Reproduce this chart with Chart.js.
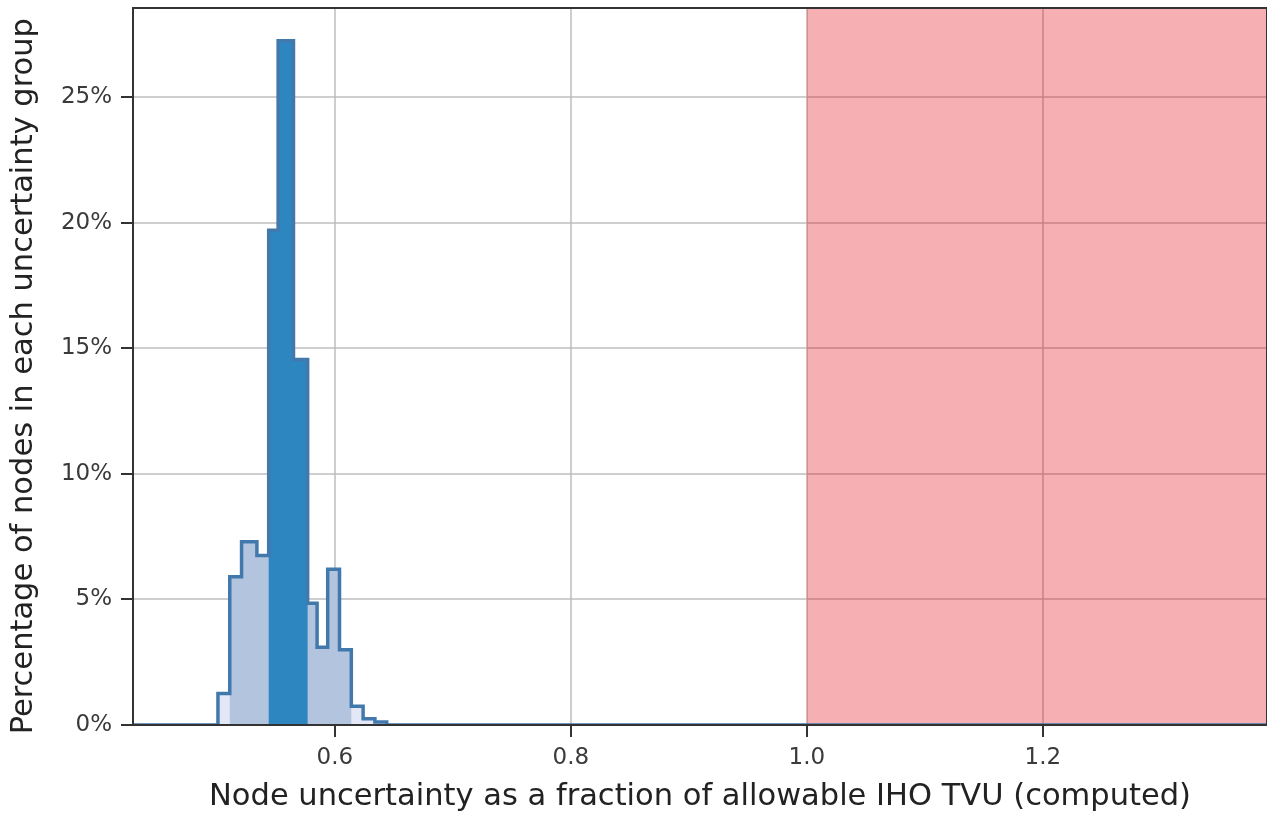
<!DOCTYPE html>
<html>
<head>
<meta charset="utf-8">
<script src="https://cdn.jsdelivr.net/npm/chart.js@4/dist/chart.umd.min.js"></script>
<style>
  body { margin: 0; background: #fff; }
  canvas { display: block; }
</style>
</head>
<body>
<canvas id="histo" width="1267" height="815"></canvas>
<script>
// left edges of the histogram bins (last value closes the last bin)
const binEdges = [0.501, 0.511, 0.521, 0.534, 0.544, 0.552, 0.565, 0.577, 0.585, 0.594, 0.604, 0.614, 0.624, 0.634, 0.644];
// percentage of nodes per bin
const nodePercent = [1.25, 5.9, 7.3, 6.75, 19.7, 27.25, 14.55, 4.85, 3.1, 6.2, 3.0, 0.75, 0.25, 0.12];
// shading group of each bin: 0 pale, 1 light, 2 dark
const binGroup = [0, 1, 1, 1, 2, 2, 2, 1, 1, 1, 1, 0, 0, 0];
const xTicks = [0.6, 0.8, 1.0, 1.2];
const yTicks = [0, 5, 10, 15, 20, 25];
const xRange = [0.429, 1.39];
const yMax = 28.55;
const limitStart = 1.0; // allowable TVU fraction

function stepPoints(keep) {
    const pts = [];
    for (let i = 0; i < nodePercent.length; i++) {
        pts.push({ x: binEdges[i], y: keep(i) ? nodePercent[i] : 0 });
    }
    pts.push({ x: binEdges[binEdges.length - 1], y: 0 });
    return pts;
}

const outline = [{ x: xRange[0], y: 0 }].concat(stepPoints(() => true), [{ x: xRange[1], y: 0 }]);

const redZone = {
    id: "redZone",
    beforeDatasetsDraw(chart) {
        const { ctx, chartArea, scales } = chart;
        const x0 = scales.x.getPixelForValue(limitStart);
        ctx.save();
        ctx.fillStyle = "rgba(226, 0, 10, 0.314)";
        ctx.fillRect(x0, chartArea.top, chartArea.right - x0, chartArea.bottom - chartArea.top);
        ctx.restore();
    },
    afterDraw(chart) {
        const { ctx, chartArea } = chart;
        ctx.save();
        ctx.strokeStyle = "#333";
        ctx.lineWidth = 2;
        ctx.strokeRect(chartArea.left, chartArea.top, chartArea.right - chartArea.left, chartArea.bottom - chartArea.top);
        ctx.restore();
    }
};

const lineBase = { stepped: "before", pointRadius: 0, borderWidth: 0, fill: "origin" };
const gridStyle = { color: "rgba(185,185,185,0.7)", lineWidth: 2, tickLength: 12, tickColor: "#333" };

new Chart(document.getElementById("histo").getContext("2d"), {
    type: "line",
    data: {
        datasets: [
            { ...lineBase, data: outline, borderColor: "#4279ad", borderWidth: 3.5, fill: false },
            { ...lineBase, data: stepPoints(i => binGroup[i] === 2), backgroundColor: "#2e86c1" },
            { ...lineBase, data: stepPoints(i => binGroup[i] === 0), backgroundColor: "#e4e7f5" },
            { ...lineBase, data: stepPoints(() => true), backgroundColor: "#b3c4df" }
        ]
    },
    options: {
        responsive: false,
        animation: false,
        layout: { padding: { top: 8, right: 0, left: 0, bottom: 0 } },
        plugins: { legend: { display: false }, tooltip: { enabled: false } },
        scales: {
            x: {
                type: "linear",
                min: xRange[0],
                max: xRange[1],
                afterBuildTicks: s => { s.ticks = xTicks.map(v => ({ value: v })); },
                afterFit: s => { s.height = 90; s.paddingLeft = 0; s.paddingRight = 0; },
                ticks: {
                    callback: v => v.toFixed(1),
                    font: { family: "DejaVu Sans", size: 23 },
                    color: "#3a3a3a",
                    padding: 7,
                    maxRotation: 0
                },
                grid: gridStyle,
                border: { color: "#333", width: 2 },
                title: {
                    display: true,
                    text: "Node uncertainty as a fraction of allowable IHO TVU (computed)",
                    font: { family: "DejaVu Sans", size: 30.5 },
                    color: "#222",
                    padding: { top: 0, bottom: 0 }
                }
            },
            y: {
                min: 0,
                max: yMax,
                afterBuildTicks: s => { s.ticks = yTicks.map(v => ({ value: v })); },
                afterFit: s => { s.width = 133; s.paddingTop = 0; s.paddingBottom = 0; },
                ticks: {
                    callback: v => v + "%",
                    font: { family: "DejaVu Sans", size: 23 },
                    color: "#3a3a3a",
                    padding: 9
                },
                grid: gridStyle,
                border: { color: "#333", width: 2 },
                title: {
                    display: true,
                    // trailing spaces nudge the rotated title down a little
                    text: "Percentage of nodes in each uncertainty group\u00a0\u00a0",
                    font: { family: "DejaVu Sans", size: 30.5 },
                    color: "#222",
                    padding: { top: 6, bottom: 0 }
                }
            }
        }
    },
    plugins: [redZone]
});
</script>
</body>
</html>
